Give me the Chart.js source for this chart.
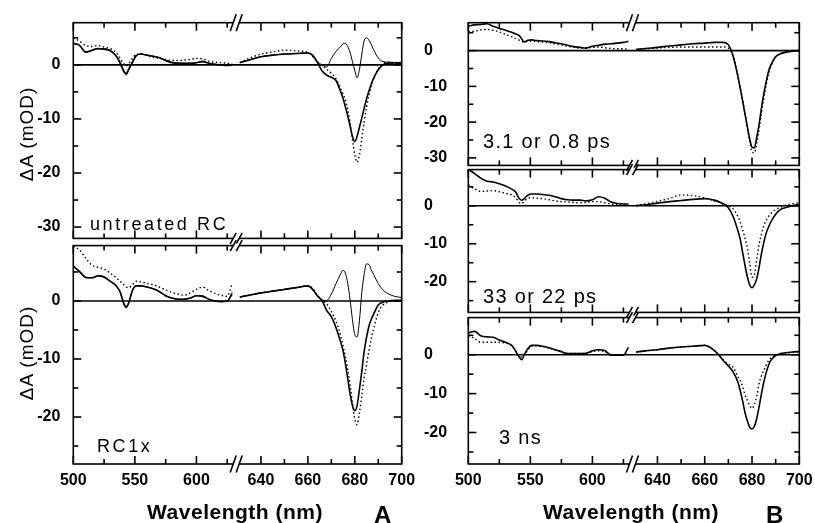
<!DOCTYPE html>
<html>
<head>
<meta charset="utf-8">
<script src="https://cdn.jsdelivr.net/npm/chart.js@4.4.1/dist/chart.umd.min.js"></script>
<style>
  html, body { margin: 0; padding: 0; background: #fff; }
  body { width: 815px; height: 523px; position: relative; overflow: hidden;
         font-family: "Liberation Sans", Arial, sans-serif; color: #000; }
  .panel { position: absolute; }
  .lbl { position: absolute; white-space: nowrap; line-height: 1; }
  .ytitle { position: absolute; white-space: nowrap; line-height: 1; font-size: 19px;
            letter-spacing: 1px; transform: translate(-50%, -50%) rotate(-90deg); }
</style>
</head>
<body>
<div class="panel" id="a1"><canvas></canvas></div>
<div class="panel" id="a2"><canvas></canvas></div>
<div class="panel" id="b1"><canvas></canvas></div>
<div class="panel" id="b2"><canvas></canvas></div>
<div class="panel" id="b3"><canvas></canvas></div>

<div class="ytitle" style="left:26px; top:134px;">ΔA (mOD)</div>
<div class="ytitle" style="left:26px; top:353px;">ΔA (mOD)</div>

<div class="lbl" style="left:90px; top:215px; font-size:18px; letter-spacing:2.6px;">untreated RC</div>
<div class="lbl" style="left:97px; top:437px; font-size:18px; letter-spacing:2.6px;">RC1x</div>
<div class="lbl" style="left:483px; top:131px; font-size:20px; letter-spacing:1.3px;">3.1 or 0.8 ps</div>
<div class="lbl" style="left:483px; top:286px; font-size:20px; letter-spacing:1.3px;">33 or 22 ps</div>
<div class="lbl" style="left:499px; top:427px; font-size:20px; letter-spacing:1.3px;">3 ns</div>

<div class="lbl" style="left:135px; width:200px; text-align:center; top:501px; font-size:21px; font-weight:bold; letter-spacing:0.5px;">Wavelength (nm)</div>
<div class="lbl" style="left:531px; width:200px; text-align:center; top:501px; font-size:21px; font-weight:bold; letter-spacing:0.5px;">Wavelength (nm)</div>
<div class="lbl" style="left:374px; top:503px; font-size:24px; font-weight:bold;">A</div>
<div class="lbl" style="left:766px; top:503px; font-size:24px; font-weight:bold;">B</div>

<script>
// ================= Data =================
// wavelengths (nm) on the two sides of the axis break
const wlLeft = [500, 505, 510, 515, 520, 525, 530, 535, 538, 541, 543, 545, 548, 551, 555,
                560, 565, 570, 575, 580, 585, 590, 595, 600, 605, 610, 615, 620, 625, 629];
const wlRight = [631, 635, 640, 645, 650, 655, 660, 662, 664, 666, 668, 670, 672, 674, 675,
                 676, 677, 678, 679, 680, 681, 682, 683, 684, 685, 686, 687, 688, 690, 692,
                 694, 697, 700];

// A, untreated RC
const a1DerivL = [3.9, 3.7, 2.3, 2.6, 3.0, 3.0, 2.7, 1.5, 0.2, -1.4, -1.9, -1.0, 0.3, 1.6, 2.0,
                  1.8, 1.6, 1.3, 0.9, 0.5, 0.35, 0.3, 0.3, 0.4, 0.7, 0.3, 0.1, 0.0, -0.1, 0.1];
const a1DerivR = [0.4, 0.9, 1.5, 1.8, 2.0, 2.1, 2.2, 1.7, 0.6, 0.0, -0.4, 1.2, 2.5, 3.4, 3.9,
                  4.0, 3.4, 2.3, 0.6, -1.1, -2.4, -0.8, 2.0, 4.5, 5.0, 4.6, 3.8, 2.8, 1.3, 0.6,
                  0.5, 0.45, 0.45];
const a1SolidL = [4.0, 3.6, 2.4, 2.7, 3.0, 2.9, 2.6, 1.6, 0.4, -1.1, -1.6, -0.8, 0.5, 1.7, 2.0,
                  1.8, 1.6, 1.3, 0.8, 0.4, 0.3, 0.3, 0.3, 0.4, 0.6, 0.3, 0.1, 0.0, -0.1, 0.0];
const a1SolidR = [0.4, 0.9, 1.5, 1.8, 2.0, 2.1, 2.2, 1.8, 0.5, -1.1, -1.9, -2.3, -2.9, -5.0, -6.2,
                  -7.8, -9.4, -11.3, -13.2, -14.2, -13.2, -11.5, -9.8, -8.0, -6.3, -4.9, -3.6, -2.5, -0.9, 0.0,
                  0.3, 0.35, 0.3];
const a1DotL = [5.0, 4.4, 3.6, 3.4, 3.6, 3.3, 3.0, 2.2, 1.2, 0.2, -0.2, 0.2, 1.2, 1.9, 2.0,
                1.7, 1.4, 1.2, 1.0, 0.8, 0.8, 0.9, 1.0, 1.2, 1.1, 0.7, 0.5, 0.4, 0.3, 0.2];
const a1DotR = [0.4, 1.2, 2.0, 2.4, 2.7, 2.6, 2.3, 1.6, 0.6, -0.2, -0.8, -1.6, -2.6, -4.4, -5.4,
                -6.5, -8.3, -10.8, -13.8, -16.6, -18.0, -16.6, -13.6, -10.5, -7.8, -5.6, -3.9, -2.6, -0.8, 0.2,
                0.5, 0.3, 0.2];

// A, RC1x
const a2DerivL = [6.1, 5.0, 4.0, 4.0, 4.4, 4.2, 3.4, 2.5, 1.5, -0.6, -1.2, -0.4, 1.8, 2.6, 2.6,
                  2.4, 2.1, 1.6, 0.9, 0.5, 0.3, 0.3, 0.5, 0.9, 0.9, 0.3, 0.0, -0.1, 0.0, 1.5];
const a2DerivR = [0.7, 1.0, 1.4, 1.7, 2.0, 2.3, 2.6, 2.0, 0.9, 0.1, 0.1, 1.2, 3.0, 4.7, 5.3,
                  4.8, 3.0, 0.2, -3.2, -5.8, -6.2, -3.3, 1.5, 4.6, 6.4, 6.3, 5.4, 4.6, 3.0, 1.9,
                  1.3, 0.8, 0.6];
const a2SolidL = [6.0, 5.1, 4.1, 4.0, 4.3, 4.1, 3.4, 2.6, 1.6, -0.4, -1.0, -0.3, 1.8, 2.6, 2.6,
                  2.4, 2.1, 1.6, 0.9, 0.5, 0.3, 0.3, 0.5, 0.9, 0.8, 0.3, 0.0, -0.1, 0.0, 1.2];
const a2SolidR = [0.7, 1.0, 1.4, 1.7, 2.0, 2.3, 2.6, 2.0, 0.9, 0.1, -1.6, -2.7, -4.6, -7.1, -8.6,
                  -10.8, -13.4, -16.0, -18.0, -18.9, -18.0, -15.2, -12.1, -8.7, -6.3, -4.4, -3.2, -2.3, -0.7, -0.2,
                  0.0, 0.1, 0.1];
const a2DotL = [9.4, 8.8, 7.4, 6.2, 5.8, 5.5, 4.8, 4.0, 3.4, 2.8, 2.4, 2.3, 2.8, 3.4, 3.3,
                3.0, 2.8, 2.4, 1.9, 1.5, 1.2, 1.0, 1.4, 2.0, 2.4, 1.8, 1.3, 1.0, 0.8, 3.0];
const a2DotR = [0.7, 1.0, 1.4, 1.7, 2.0, 2.3, 2.6, 2.2, 1.0, 0.2, -0.5, -1.8, -3.5, -6.0, -7.7,
                -9.6, -11.8, -14.5, -17.5, -20.4, -21.3, -19.2, -16.3, -13.2, -11.0, -8.6, -6.6, -4.9, -2.0, -0.7,
                -0.2, 0.0, 0.0];

// B, 3.1 or 0.8 ps
const b1SolidL = [6.8, 7.2, 7.3, 7.5, 6.8, 6.2, 5.7, 5.1, 4.7, 4.2, 3.3, 2.4, 2.9, 3.0, 2.8,
                  2.7, 2.5, 2.2, 1.9, 1.5, 1.1, 0.9, 0.7, 1.2, 1.5, 1.8, 1.9, 2.1, 2.3, 2.6];
const b1SolidR = [0.3, 0.6, 0.9, 1.3, 1.6, 1.9, 2.1, 2.2, 2.3, 2.3, 2.3, 1.6, -1.5, -7.2, -10.5,
                  -14.0, -17.6, -21.2, -24.6, -27.0, -27.2, -24.2, -20.6, -16.0, -12.0, -8.7, -5.8, -4.0, -1.7, -0.9,
                  -0.5, -0.2, 0.0];
const b1DotL = [5.3, 5.4, 5.8, 5.9, 5.7, 5.2, 4.5, 3.9, 3.4, 2.9, 2.6, 2.4, 2.6, 2.7, 2.5,
                2.4, 2.2, 1.9, 1.6, 1.2, 0.9, 0.7, 0.8, 0.9, 1.0, 0.8, 0.6, 0.5, 0.5, 0.4];
const b1DotR = [0.3, 0.5, 0.7, 0.9, 1.0, 1.0, 1.0, 1.0, 1.0, 1.0, 1.0, 0.7, -1.6, -6.8, -10.0,
                -13.6, -17.4, -21.4, -25.3, -28.3, -28.6, -25.8, -22.0, -17.4, -13.2, -9.6, -6.6, -4.4, -1.8, -0.9,
                -0.4, -0.1, 0.0];

// B, 33 or 22 ps
const b2SolidL = [9.6, 8.5, 7.3, 6.5, 6.3, 5.8, 5.2, 4.4, 3.7, 1.9, 1.5, 1.9, 2.8, 3.1, 3.1,
                  3.0, 2.8, 2.4, 1.9, 1.6, 1.5, 1.5, 1.3, 1.6, 2.4, 2.0, 1.0, 0.6, 0.5, 0.5];
const b2SolidR = [0.1, 0.3, 0.7, 1.1, 1.4, 1.7, 1.9, 1.8, 1.5, 1.1, 0.5, -0.5, -2.8, -6.5, -8.8,
                  -12.2, -15.6, -18.6, -20.8, -21.6, -20.8, -19.2, -16.2, -12.6, -9.6, -7.2, -5.6, -4.2, -2.2, -1.0,
                  -0.5, 0.0, 0.4];
const b2DotL = [5.5, 4.5, 3.8, 3.9, 4.0, 3.7, 3.3, 2.9, 2.2, 0.9, 0.6, 1.2, 2.0, 2.1, 2.0,
                1.9, 1.6, 1.3, 1.1, 1.0, 0.9, 0.8, 0.9, 1.1, 1.1, 0.8, 0.5, 0.4, 0.3, 0.3];
const b2DotR = [0.1, 0.5, 1.2, 1.9, 2.9, 2.7, 2.1, 1.7, 1.3, 0.9, 0.4, 0.0, -0.8, -2.8, -4.2,
                -6.2, -8.5, -11.0, -15.0, -18.8, -18.2, -14.0, -10.2, -7.4, -5.2, -3.8, -2.8, -2.0, -1.0, -0.4,
                0.1, 0.5, 0.85];

// B, 3 ns
const b3SolidL = [5.6, 6.0, 4.9, 4.6, 4.5, 3.8, 3.2, 2.4, 1.0, -0.6, -1.3, 0.0, 1.6, 2.4, 2.4,
                  2.2, 1.8, 1.3, 0.8, 0.3, 0.3, 0.3, 0.4, 1.0, 1.3, 1.1, -0.1, -0.1, -0.1, 1.9];
const b3SolidR = [0.7, 1.0, 1.3, 1.7, 2.0, 2.2, 2.4, 2.0, 1.1, -0.1, -1.6, -2.9, -4.4, -7.0, -9.2,
                  -11.8, -14.8, -17.0, -18.6, -19.1, -18.4, -16.4, -13.4, -10.0, -7.0, -4.6, -2.7, -1.4, -0.2, 0.3,
                  0.5, 0.7, 0.85];
const b3DotL = [4.9, 4.2, 3.2, 3.2, 3.2, 3.2, 3.0, 2.3, 1.0, -0.4, -0.6, -0.2, 1.2, 2.2, 2.3,
                2.1, 1.7, 1.2, 0.7, 0.3, 0.3, 0.3, 0.4, 0.8, 1.0, 0.8, 0.0, -0.1, 0.0, 0.3];
const b3DotR = [0.7, 1.0, 1.3, 1.7, 2.0, 2.2, 2.4, 2.0, 1.1, -0.1, -1.4, -2.4, -3.2, -5.6, -6.6,
                -8.2, -10.2, -11.7, -13.0, -13.8, -12.8, -10.6, -7.4, -5.4, -4.0, -2.6, -1.5, -0.8, -0.2, 0.2,
                0.4, 0.6, 0.8];

// ticks
const xTicks = [500, 525, 550, 575, 600, 625, 640, 650, 660, 670, 680, 690, 700];
const xLabels = [500, 550, 600, 640, 660, 680, 700];
const yTicksTop = [-30, -25, -20, -15, -10, -5, 0, 5];
const yTicksRest = [-25, -20, -15, -10, -5, 0, 5];
const yLabels = [0, -10, -20, -30];
const yRangeTop = [-32.1, 7.8];
const yRangeRest = [-28.1, 9.55];

// ================= Broken x scale =================
// 500-630 nm fills the left half, 630-700 nm the right half
const LEFT_SPAN = 266.7, RIGHT_START = 630, RIGHT_SPAN = 140;

class BrokenScale extends Chart.LinearScale {
    getPixelForValue(v) {
        if (v === null || v === undefined || isNaN(v)) return NaN;
        const f = v < RIGHT_START ? (v - 500) / LEFT_SPAN : 0.5 + (v - RIGHT_START) / RIGHT_SPAN;
        return this.getPixelForDecimal(f);
    }
    getValueForPixel(p) {
        const f = this.getDecimalForPixel(p);
        return f < 0.5 ? 500 + f * LEFT_SPAN : RIGHT_START + (f - 0.5) * RIGHT_SPAN;
    }
}
BrokenScale.id = 'broken';
BrokenScale.defaults = Chart.LinearScale.defaults;
Chart.register(BrokenScale);

// ================= Frame, ticks, zero line, break marks =================
function seg(ctx, x1, y1, x2, y2) {
    ctx.beginPath();
    ctx.moveTo(x1, y1);
    ctx.lineTo(x2, y2);
    ctx.stroke();
}

function breakMark(ctx, x, y, half) {
    ctx.fillStyle = '#fff';
    ctx.fillRect(x - 3, y - 2, 6, 4);
    seg(ctx, x - 6, y + half, x, y - half);
    seg(ctx, x, y + half, x + 6, y - half);
}

const framePlugin = {
    id: 'frame',
    afterDraw(chart) {
        const { ctx, chartArea: a, scales: { x, y } } = chart;
        const p = chart.options.plugins.frame;
        ctx.save();
        ctx.strokeStyle = '#000';
        ctx.lineWidth = 1.6;

        const y0 = y.getPixelForValue(0);
        seg(ctx, a.left, y0, a.right, y0);

        p.yTicks.forEach(v => {
            const py = y.getPixelForValue(v);
            const len = v % 10 === 0 ? 8 : 5;
            seg(ctx, a.left, py, a.left + len, py);
            seg(ctx, a.right, py, a.right - len, py);
        });
        xTicks.forEach(v => {
            const px = x.getPixelForValue(v);
            const len = xLabels.includes(v) ? 8 : 5;
            seg(ctx, px, a.bottom, px, a.bottom - len);
            seg(ctx, px, a.top, px, a.top + len);
        });

        ctx.strokeRect(a.left, a.top, a.right - a.left, a.bottom - a.top);

        const bx = x.getPixelForDecimal(0.496);
        breakMark(ctx, bx, a.top, p.brk[0]);
        breakMark(ctx, bx, a.bottom, p.brk[1]);
        ctx.restore();
    }
};

// ================= Panels =================
const styles = {
    thin:  { borderWidth: 1.0, borderDash: [] },
    solid: { borderWidth: 1.6, borderDash: [] },
    dot:   { borderWidth: 1.4, borderDash: [1.5, 2.5] }
};

function points(l, r) {
    return wlLeft.map((x, i) => ({ x, y: l[i] }))
        .concat([{ x: 630, y: null }], wlRight.map((x, i) => ({ x, y: r[i] })));
}

const tickFont = { family: "'Liberation Sans', Arial, sans-serif", size: 16, weight: 'bold' };

const panels = [
    { id: 'a1', box: [0, 8, 420, 240], plot: [73.3, 22.7, 401.7, 243], padL: 0, align: 'near',
      range: yRangeTop, yTicks: yTicksTop, showX: false, brk: [8.5, 5.5],
      series: [[a1DotL, a1DotR, 'dot'], [a1SolidL, a1SolidR, 'solid'], [a1DerivL, a1DerivR, 'thin']] },
    { id: 'a2', box: [0, 236, 420, 287], plot: [73.3, 243, 401.7, 464], padL: 0, align: 'near',
      range: yRangeRest, yTicks: yTicksRest, showX: true, brk: [5.5, 8.5],
      series: [[a2DotL, a2DotR, 'dot'], [a2SolidL, a2SolidR, 'solid'], [a2DerivL, a2DerivR, 'thin']] },
    { id: 'b1', box: [410, 8, 405, 167], plot: [468.3, 22.7, 799.3, 169.3], padL: 14, align: 'far',
      range: yRangeTop, yTicks: yTicksTop, showX: false, brk: [8.5, 5.5],
      series: [[b1DotL, b1DotR, 'dot'], [b1SolidL, b1SolidR, 'solid']] },
    { id: 'b2', box: [410, 160, 405, 162], plot: [468.3, 169.3, 799.3, 316.7], padL: 14, align: 'far',
      range: yRangeRest, yTicks: yTicksRest, showX: false, brk: [5.5, 5.5],
      series: [[b2DotL, b2DotR, 'dot'], [b2SolidL, b2SolidR, 'solid']] },
    { id: 'b3', box: [410, 308, 405, 215], plot: [468.3, 316.7, 799.3, 464], padL: 14, align: 'far',
      range: yRangeRest, yTicks: yTicksRest, showX: true, brk: [5.5, 8.5],
      series: [[b3DotL, b3DotR, 'dot'], [b3SolidL, b3SolidR, 'solid']] }
];

function makePanel(p) {
    const [bl, bt, bw, bh] = p.box;
    const [pl, pt, pr, pb] = p.plot;
    const div = document.getElementById(p.id);
    div.style.left = bl + 'px';
    div.style.top = bt + 'px';
    div.style.width = bw + 'px';
    div.style.height = bh + 'px';

    const yw = pl - bl - p.padL;
    const xh = bt + bh - pb;

    const datasets = p.series.map(([l, r, st]) => ({
        data: points(l, r),
        borderColor: '#000',
        borderWidth: styles[st].borderWidth,
        borderDash: styles[st].borderDash,
        pointRadius: 0,
        fill: false,
        spanGaps: false,
        cubicInterpolationMode: 'monotone'
    }));

    const xScale = {
        type: 'broken', min: 500, max: 700, display: p.showX,
        grid: { display: false, drawTicks: true, tickLength: 7 },
        border: { display: false },
        afterBuildTicks: s => { s.ticks = xTicks.map(v => ({ value: v })); },
        ticks: {
            display: p.showX, autoSkip: false, maxRotation: 0, padding: 0, color: '#000', font: tickFont,
            callback: v => xLabels.includes(v) ? String(v) : null
        }
    };
    if (p.showX) xScale.afterFit = s => { s.height = xh; };

    new Chart(div.querySelector('canvas'), {
        type: 'line',
        data: { datasets },
        options: {
            responsive: true,
            maintainAspectRatio: false,
            animation: false,
            events: [],
            layout: { padding: { left: p.padL, top: pt - bt, right: bl + bw - pr, bottom: p.showX ? 0 : xh } },
            plugins: {
                legend: { display: false },
                tooltip: { enabled: false },
                frame: { yTicks: p.yTicks, brk: p.brk }
            },
            scales: {
                x: xScale,
                y: {
                    min: p.range[0], max: p.range[1],
                    grid: { display: false, drawTicks: true, tickLength: 13 },
                    border: { display: false },
                    // unlabeled end ticks keep the axis from padding the plot area
                    afterBuildTicks: s => {
                        s.ticks = [p.range[0], ...p.yTicks, p.range[1]].map(v => ({ value: v }));
                    },
                    afterFit: s => { s.width = yw; },
                    ticks: {
                        autoSkip: false, padding: 0, crossAlign: p.align, color: '#000', font: tickFont,
                        callback: v => yLabels.includes(v) ? String(v) : null
                    }
                }
            }
        },
        plugins: [framePlugin]
    });
}

panels.forEach(makePanel);
</script>
</body>
</html>
